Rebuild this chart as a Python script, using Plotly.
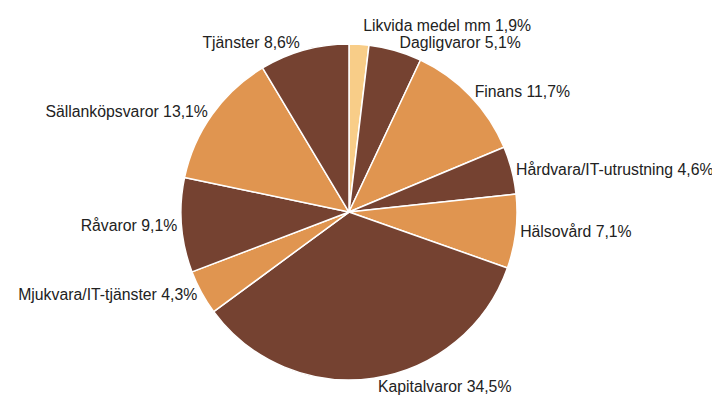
import plotly.graph_objects as go

categories = ["Likvida medel mm", "Dagligvaror", "Finans", "Hårdvara/IT-utrustning",
              "Hälsovård", "Kapitalvaror", "Mjukvara/IT-tjänster", "Råvaror",
              "Sällanköpsvaror", "Tjänster"]
values = [1.9, 5.1, 11.7, 4.6, 7.1, 34.5, 4.3, 9.1, 13.1, 8.6]
colors = ["#F8CD88", "#754231", "#E09550", "#754231", "#E09550",
          "#754231", "#E09550", "#754231", "#E09550", "#754231"]

texts = [f"{c} {str(v).replace('.', ',')}%" for c, v in zip(categories, values)]

font = dict(family="Liberation Sans, Arial, sans-serif", size=15.8, color="#222222")

fig = go.Figure(go.Pie(
    labels=categories,
    values=values,
    text=texts,
    textinfo="text",
    textposition="outside",
    automargin=False,
    sort=False,
    direction="clockwise",
    rotation=0,
    marker=dict(colors=colors, line=dict(color="white", width=1.5)),
    outsidetextfont=font,
    hoverinfo="label+value",
    domain=dict(x=[0.1736, 0.7736], y=[0.097, 0.9126]),
))

fig.update_layout(
    width=720, height=412,
    margin=dict(l=0, r=0, t=0, b=0),
    showlegend=False,
    paper_bgcolor="white",
    plot_bgcolor="white",
)

fig.write_html(
    "out.html",
    post_script="document.querySelectorAll('path.textline').forEach(function(e){e.remove();});",
)
